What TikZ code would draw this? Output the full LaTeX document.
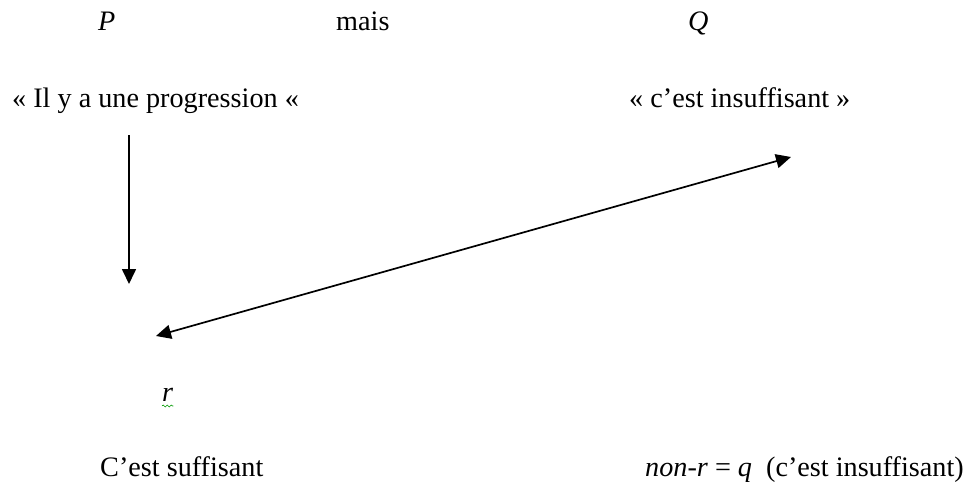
\documentclass[tikz,border=0pt]{standalone}
\usepackage{fontspec}
\setmainfont{Liberation Serif}
\usepackage{tikz}
\usetikzlibrary{positioning,arrows.meta,decorations.pathmorphing}

\begin{document}
\begin{tikzpicture}[
        x=1pt, y=-1pt,
        txt/.style={anchor=base west, inner sep=0pt, font=\fontsize{28.2}{34}\selectfont},
        arrow/.style={-{Triangle[length=15pt,width=14pt]}, line width=1.7pt},
        darrow/.style={arrow, {Triangle[length=15pt,width=14pt]}-{Triangle[length=15pt,width=14pt]}},
        wavy/.style={draw=green!60!black, line width=0.6pt,
            decorate, decoration={snake, amplitude=1pt, segment length=4pt}}
    ]
        \useasboundingbox (0,0) rectangle (975,482);

        % top line
        \node[txt] (P)    at (98,30)  {\textit{P}};
        \node[txt] (mais) at (336,30) {mais};
        \node[txt] (Q)    at (688,30) {\textit{Q}};

        % the two statements
        \node[txt] (prog)  at (12,107)  {« Il y a une progression «};
        \node[txt] (insuf) at (629,107) {« c’est insuffisant »};

        % conclusions
        \node[txt] (r)    at (162,401) {\textit{r}};
        \node[txt] (suff) at (100,476) {C’est suffisant};
        \node[txt] (nonr) at (645,476) {\textit{non}-\textit{r} = \textit{q}\ \ (c’est insuffisant)};

        \coordinate (a1) at (129,135);
        \coordinate (a2) at (129,284);
        \coordinate (b1) at (156,336);
        \coordinate (b2) at (791,157);

        \draw[arrow]  (a1) -- (a2);
        \draw[darrow] (b1) -- (b2);
        \draw[wavy] ([yshift=-5pt]r.base west) -- ([yshift=-5pt]r.base east);
    \end{tikzpicture}
\end{document}
